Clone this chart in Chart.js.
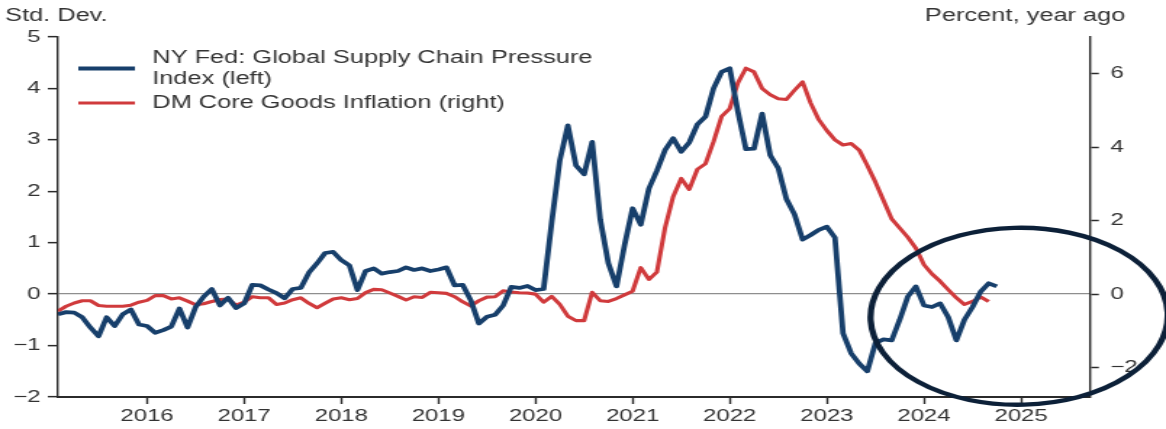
<!DOCTYPE html>
<html>
<head>
<meta charset="utf-8">
<script src="https://cdn.jsdelivr.net/npm/chart.js@4.4.1/dist/chart.umd.min.js"></script>
<style>
  html, body { margin: 0; padding: 0; background: #fff; }
  #wrap { width: 1166px; height: 429px; overflow: hidden; }
  /* the source picture is stretched sideways, so the canvas is drawn narrow and widened */
  #chart { transform: scaleX(1.4502); transform-origin: 0 0; }
</style>
</head>
<body>
<div id="wrap"><canvas id="chart" width="804" height="429"></canvas></div>
<script>
// monthly, first value is Feb 2015
const startYear = 2015;
const startMonth = 2;

// NY Fed GSCPI, std. dev. (left)
const gscpi = [
  -0.39, -0.35, -0.36, -0.45, -0.65, -0.82, -0.45, -0.62, -0.39, -0.30, -0.59,
  -0.62, -0.75, -0.70, -0.63, -0.28, -0.65, -0.25, -0.05, 0.10, -0.22, -0.07, -0.27,
  -0.18, 0.18, 0.17, 0.09, 0.02, -0.08, 0.10, 0.12, 0.42, 0.60, 0.80, 0.82,
  0.66, 0.56, 0.08, 0.45, 0.50, 0.40, 0.43, 0.45, 0.52, 0.47, 0.50, 0.45,
  0.48, 0.52, 0.17, 0.18, -0.12, -0.57, -0.44, -0.40, -0.22, 0.14, 0.12, 0.16,
  0.08, 0.10, 1.40, 2.60, 3.28, 2.50, 2.33, 2.96, 1.45, 0.60, 0.15, 0.95,
  1.67, 1.35, 2.05, 2.40, 2.80, 3.03, 2.77, 2.95, 3.30, 3.45, 4.00, 4.32,
  4.39, 3.55, 2.82, 2.83, 3.51, 2.70, 2.45, 1.85, 1.55, 1.06, 1.15, 1.25,
  1.31, 1.10, -0.76, -1.15, -1.35, -1.50, -0.95, -0.88, -0.90, -0.50, -0.05, 0.15,
  -0.22, -0.25, -0.18, -0.45, -0.90, -0.50, -0.25, 0.05, 0.21, 0.15
];

// DM core goods inflation, % y/y (right)
const coreGoods = [
  -0.46, -0.33, -0.24, -0.18, -0.18, -0.31, -0.33, -0.33, -0.33, -0.30, -0.22,
  -0.17, -0.04, -0.04, -0.13, -0.10, -0.19, -0.29, -0.26, -0.20, -0.15, -0.13, -0.30,
  -0.22, -0.07, -0.10, -0.10, -0.28, -0.24, -0.15, -0.10, -0.25, -0.37, -0.25, -0.13,
  -0.10, -0.15, -0.12, 0.04, 0.13, 0.12, 0.03, -0.06, -0.16, -0.07, -0.09, 0.05,
  0.04, 0.02, -0.07, -0.21, -0.32, -0.18, -0.08, -0.07, 0.09, 0.06, 0.04, 0.03,
  0.00, -0.22, -0.06, -0.28, -0.60, -0.72, -0.72, 0.05, -0.18, -0.20, -0.12, -0.02,
  0.08, 0.72, 0.40, 0.60, 1.80, 2.65, 3.15, 2.85, 3.40, 3.55, 4.15, 4.84,
  5.05, 5.75, 6.15, 6.05, 5.60, 5.43, 5.32, 5.30, 5.55, 5.78, 5.20, 4.75,
  4.45, 4.20, 4.06, 4.10, 3.92, 3.50, 3.05, 2.55, 2.05, 1.80, 1.55, 1.25,
  0.80, 0.55, 0.35, 0.12, -0.10, -0.28, -0.20, -0.08, -0.20
];

const yearTicks = [2016, 2017, 2018, 2019, 2020, 2021, 2022, 2023, 2024, 2025];
const leftTicks = [-2, -1, 0, 1, 2, 3, 4, 5];
const rightTicks = [-2, 0, 2, 4, 6];

const toPoints = vals => vals.map((v, i) => ({ x: startYear + (startMonth - 1 + i) / 12, y: v }));

const fontFamily = '"Liberation Sans", Arial, sans-serif';
const textColor = '#333';
const axisColor = '#2b2b2b';
const minus = v => String(v).replace('-', '\u2212');

const headerText = {
  id: 'headerText',
  afterDraw(chart) {
    const ctx = chart.ctx;
    ctx.save();
    ctx.font = '17.5px ' + fontFamily;
    ctx.fillStyle = textColor;
    ctx.textBaseline = 'middle';
    ctx.textAlign = 'left';
    ctx.fillText('Std. Dev.', 3.5, 16);
    ctx.textAlign = 'right';
    ctx.fillText('Percent, year ago', chart.width - 28, 16);
    ctx.restore();
  }
};

const insideLegend = {
  id: 'insideLegend',
  afterDraw(chart) {
    const ctx = chart.ctx;
    const a = chart.chartArea;
    ctx.save();
    ctx.font = '17.5px ' + fontFamily;
    ctx.fillStyle = textColor;
    ctx.textBaseline = 'middle';
    ctx.textAlign = 'left';
    let y = a.top + 21;
    chart.data.datasets.forEach(ds => {
      const lines = ds.legendLines;
      const sy = y + (lines.length - 1) * 21 / 2;
      ctx.strokeStyle = ds.borderColor;
      ctx.lineWidth = ds.borderWidth;
      ctx.beginPath();
      ctx.moveTo(a.left + 14, sy);
      ctx.lineTo(a.left + 53, sy);
      ctx.stroke();
      lines.forEach((t, j) => ctx.fillText(t, a.left + 65, y + j * 21));
      y += lines.length * 21 + 3;
    });
    ctx.restore();
  }
};

// hand-drawn ring round the latest readings
const ring = {
  id: 'ring',
  afterDraw(chart) {
    const x = chart.scales.x, y = chart.scales.y;
    const cx = x.getPixelForValue(2024.98);
    const cy = y.getPixelForValue(-0.43);
    const rx = x.getPixelForValue(2024.98 + 1.53) - cx;
    const ry = y.getPixelForValue(-0.43) - y.getPixelForValue(-0.43 + 1.72);
    const ctx = chart.ctx;
    ctx.save();
    ctx.strokeStyle = '#0c2038';
    ctx.lineWidth = 4.3;
    ctx.beginPath();
    ctx.ellipse(cx, cy, rx, ry, -0.04, 0, Math.PI * 2);
    ctx.stroke();
    ctx.restore();
  }
};

const tickFont = { family: fontFamily, size: 16.5 };

new Chart(document.getElementById('chart'), {
  type: 'line',
  data: {
    datasets: [{
      label: 'NY Fed: Global Supply Chain Pressure Index (left)',
      legendLines: ['NY Fed: Global Supply Chain Pressure', 'Index (left)'],
      data: toPoints(gscpi),
      yAxisID: 'y',
      borderColor: '#173f6b',
      borderWidth: 3.8,
      pointRadius: 0,
      tension: 0,
      borderJoinStyle: 'round'
    }, {
      label: 'DM Core Goods Inflation (right)',
      legendLines: ['DM Core Goods Inflation (right)'],
      data: toPoints(coreGoods),
      yAxisID: 'y1',
      borderColor: '#d03a3c',
      borderWidth: 3.1,
      pointRadius: 0,
      tension: 0,
      borderJoinStyle: 'round'
    }]
  },
  options: {
    responsive: false,
    animation: false,
    devicePixelRatio: 1,
    layout: { padding: { top: 37, left: 0, right: 0, bottom: 0 } },
    plugins: {
      legend: { display: false },
      tooltip: { enabled: false }
    },
    scales: {
      x: {
        type: 'linear',
        min: 2015.083,
        max: 2025.711,
        afterBuildTicks: s => { s.ticks = yearTicks.map(v => ({ value: v })); },
        afterFit: s => { s.height = 32; },
        ticks: {
          autoSkip: false, maxRotation: 0, padding: 3,
          color: textColor, font: tickFont,
          callback: v => String(v)
        },
        grid: { drawOnChartArea: false, tickLength: 7, tickColor: axisColor, tickWidth: 1.4 },
        border: { display: true, color: axisColor, width: 2 }
      },
      y: {
        position: 'left',
        min: -2,
        max: 5,
        afterBuildTicks: s => { s.ticks = leftTicks.map(v => ({ value: v })); },
        afterFit: s => { s.width = 40; },
        ticks: { padding: 5, color: textColor, font: tickFont, callback: minus },
        grid: {
          color: c => (c.tick && c.tick.value === 0 ? '#8e8e8e' : 'rgba(0,0,0,0)'),
          lineWidth: 1.3,
          tickLength: 7, tickColor: axisColor, tickWidth: 1.5
        },
        border: { display: true, color: axisColor, width: 1.4 }
      },
      y1: {
        position: 'right',
        min: -2.8,
        max: 7,
        afterBuildTicks: s => { s.ticks = rightTicks.map(v => ({ value: v })); },
        afterFit: s => { s.width = 52.3; },
        ticks: { padding: 8, color: textColor, font: tickFont, callback: minus },
        grid: { drawOnChartArea: false, tickLength: 6, tickColor: axisColor, tickWidth: 1.5 },
        border: { display: true, color: axisColor, width: 1.4 }
      }
    }
  },
  plugins: [headerText, insideLegend, ring]
});
</script>
</body>
</html>
